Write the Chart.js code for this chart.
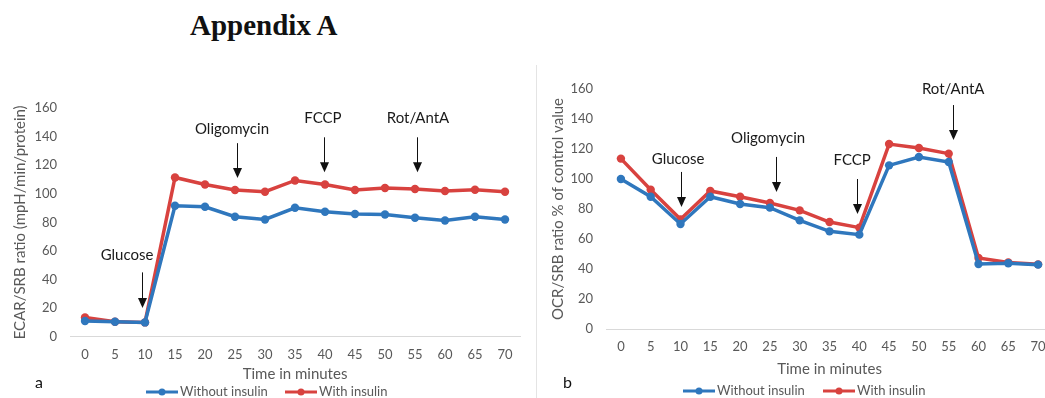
<!DOCTYPE html>
<html>
<head>
<meta charset="utf-8">
<script src="https://cdn.jsdelivr.net/npm/chart.js@4.4.1/dist/chart.umd.min.js"></script>
<style>
  html, body { margin: 0; padding: 0; background: #fff; width: 1045px; height: 398px; overflow: hidden; }
  #heading { position: absolute; left: 190px; top: 8px; margin: 0; font: bold 29px "Liberation Serif", serif; line-height: 34px; color: #111; }
  .panel { position: absolute; top: 60px; }
  #panelA { left: 0; }
  #panelB { left: 537px; }
  #divider { position: absolute; left: 536px; top: 65px; width: 1px; height: 333px; background: #e4e4e4; }
</style>
</head>
<body>
<h1 id="heading">Appendix A</h1>
<div id="divider"></div>
<canvas id="panelA" class="panel" width="530" height="338"></canvas>
<canvas id="panelB" class="panel" width="530" height="338"></canvas>
<script>
// time points (minutes)
const minutes = ['0', '5', '10', '15', '20', '25', '30', '35', '40', '45', '50', '55', '60', '65', '70'];
const seriesNames = ['Without insulin', 'With insulin'];

// panel a: ECAR/SRB
const ecarWithout = [11, 10.5, 10, 91.6, 90.9, 83.9, 82, 90.2, 87.4, 85.8, 85.5, 83.2, 81.3, 83.9, 82];
const ecarWith = [13.5, 10.5, 10, 111.4, 106.5, 102.6, 101.4, 109.3, 106.5, 102.6, 104, 103.3, 101.9, 102.8, 101.4];

// panel b: OCR/SRB, % of control
const ocrWithout = [100, 88.2, 70, 88.2, 83.3, 80.9, 72.4, 65.1, 62.9, 109.1, 114.7, 111.3, 43.3, 43.8, 42.9];
const ocrWith = [113.6, 92.9, 73.1, 92, 88.2, 84, 79.1, 71.3, 67.6, 123.3, 120.7, 116.9, 47.3, 44.4, 43.1];

// y axis range and step
const yMin = 0, yMax = 160, yStep = 20;

// injection labels
const injections = ['Glucose', 'Oligomycin', 'FCCP', 'Rot/AntA'];

const BLUE = '#2f77bd';
const RED = '#d8423f';
const GREY = '#595959';
const FONT = 'Lato';

// arrow markers + legend + panel letter
const annotate = {
  id: 'annotate',
  afterDraw(chart, args, opts) {
    const { ctx, scales: { x, y } } = chart;
    ctx.save();
    ctx.font = '15px ' + FONT;
    ctx.textAlign = 'center';
    ctx.textBaseline = 'middle';
    opts.marks.forEach((m, i) => {
      ctx.fillStyle = '#1a1a1a';
      ctx.fillText(injections[i], x.getPixelForValue(m.tx), y.getPixelForValue(m.ty));
      const ax = Math.round(x.getPixelForValue(m.ax)) + 0.5;
      const top = y.getPixelForValue(m.top);
      const tip = y.getPixelForValue(m.tip);
      ctx.strokeStyle = '#111';
      ctx.lineWidth = 1;
      ctx.beginPath();
      ctx.moveTo(ax, top);
      ctx.lineTo(ax, tip - 8);
      ctx.stroke();
      ctx.fillStyle = '#111';
      ctx.beginPath();
      ctx.moveTo(ax - 4.5, tip - 10);
      ctx.lineTo(ax + 4.5, tip - 10);
      ctx.lineTo(ax, tip);
      ctx.closePath();
      ctx.fill();
    });

    // legend
    ctx.font = '13px ' + FONT;
    ctx.textAlign = 'left';
    chart.data.datasets.forEach((ds, i) => {
      const lx = opts.legendX[i];
      const ly = opts.legendY;
      ctx.strokeStyle = ds.borderColor;
      ctx.lineWidth = 3;
      ctx.beginPath();
      ctx.moveTo(lx, ly);
      ctx.lineTo(lx + 32, ly);
      ctx.stroke();
      ctx.fillStyle = ds.borderColor;
      ctx.beginPath();
      ctx.arc(lx + 16, ly, 3.5, 0, Math.PI * 2);
      ctx.fill();
      ctx.fillStyle = GREY;
      ctx.fillText(ds.label, lx + 34, ly);
    });

    ctx.font = '16px ' + FONT;
    ctx.fillStyle = '#111';
    ctx.fillText(opts.letter, opts.letterX, opts.letterY);
    ctx.restore();
  }
};

function makeChart(id, yTitle, without, withIns, cfg) {
  const line = (label, data, color) => ({
    label: label,
    data: data,
    borderColor: color,
    backgroundColor: color,
    borderWidth: 3.5,
    pointRadius: 4.2,
    pointBorderWidth: 0,
    pointBackgroundColor: color,
    tension: 0
  });

  return new Chart(document.getElementById(id), {
    type: 'line',
    data: {
      labels: minutes,
      datasets: [line(seriesNames[0], without, BLUE), line(seriesNames[1], withIns, RED)]
    },
    options: {
      responsive: false,
      animation: false,
      events: [],
      layout: { padding: { top: cfg.top, right: cfg.right, bottom: 14, left: 0 } },
      plugins: {
        legend: { display: false },
        tooltip: { enabled: false },
        annotate: cfg.annotate
      },
      scales: {
        x: {
          offset: true,
          grid: { display: false, drawTicks: false },
          border: { display: true, color: '#d9d9d9', width: 1 },
          ticks: { color: GREY, font: { family: FONT, size: 13 }, padding: 10, maxRotation: 0, autoSkip: false },
          title: { display: true, text: 'Time in minutes', color: GREY, font: { family: FONT, size: 15 }, padding: { top: 0, bottom: cfg.xTitlePad } },
          afterFit: s => { s.height = cfg.xHeight; }
        },
        y: {
          min: yMin,
          max: yMax,
          grid: { display: false, drawTicks: false },
          border: { display: false },
          ticks: { stepSize: yStep, color: GREY, font: { family: FONT, size: 13 }, padding: 13 },
          title: { display: true, text: yTitle, color: GREY, font: { family: FONT, size: 15 }, padding: { top: cfg.yTitlePad, bottom: 0 } },
          afterFit: s => { s.width = cfg.yWidth; }
        }
      }
    },
    plugins: [annotate]
  });
}

makeChart('panelA', 'ECAR/SRB ratio (mpH/min/protein)', ecarWithout, ecarWith, {
  top: 48, right: 10, xHeight: 47.3, xTitlePad: 0.6, yWidth: 70, yTitlePad: 11,
  annotate: {
    marks: [
      { tx: 1.4, ty: 57, ax: 1.9, top: 45, tip: 20 },
      { tx: 4.9, ty: 145, ax: 5.07, top: 135.4, tip: 111 },
      { tx: 7.93, ty: 152.8, ax: 7.97, top: 139.5, tip: 115 },
      { tx: 11.1, ty: 152.8, ax: 11.07, top: 139.5, tip: 115 }
    ],
    legendX: [146, 285], legendY: 332,
    letter: 'a', letterX: 35, letterY: 323
  }
});

makeChart('panelB', 'OCR/SRB ratio % of control value', ocrWithout, ocrWith, {
  top: 29, right: 14, xHeight: 55, xTitlePad: 5.6, yWidth: 69, yTitlePad: 12,
  annotate: {
    marks: [
      { tx: 1.92, ty: 113.3, ax: 2.02, top: 104.7, tip: 81.3 },
      { tx: 4.94, ty: 127.3, ax: 5.21, top: 114.7, tip: 91.3 },
      { tx: 7.76, ty: 112.7, ax: 7.93, top: 100, tip: 76.7 },
      { tx: 11.15, ty: 160, ax: 11.15, top: 149.3, tip: 126 }
    ],
    legendX: [146, 286], legendY: 331,
    letter: 'b', letterX: 26, letterY: 323
  }
});
</script>
</body>
</html>
